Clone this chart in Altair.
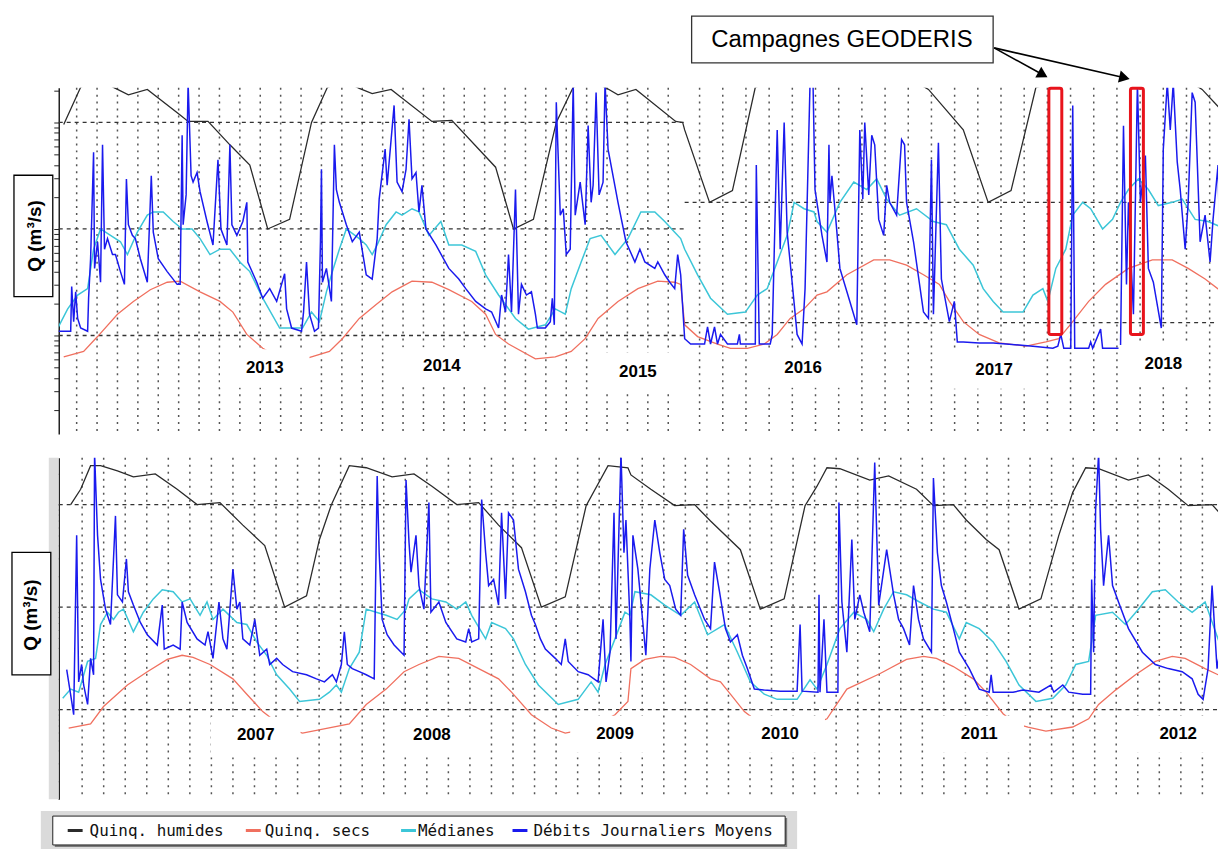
import altair as alt
import numpy as np
import pandas as pd

# ---------------------------------------------------------------- series
SERIES = ["Quinq. humides", "Quinq. secs", "Médianes", "Débits Journaliers Moyens"]
COLORS = ["#2b2b2b", "#f0705f", "#3cc6d8", "#1a1aee"]
WIDTHS = [1.3, 1.3, 1.5, 1.5]

TOP_START = pd.Timestamp("2012-07-15")   # day 0 of the upper panel
BOT_START = pd.Timestamp("2006-07-15")   # day 0 of the lower panel
TOP_DOMAIN_DAYS = [6, 2336]
BOT_DOMAIN_DAYS = [-8, 2322]

# ---------------- upper panel (2013 - 2018): day offsets and log10(Q)
top_black_day = [16, 50, 82, 116, 146, 184, 250, 266, 306, 350,
                 390, 426, 470, 514, 546, 580, 610, 636, 674, 690,
                 756, 796, 884, 920, 960, 1006, 1040, 1070, 1104, 1130,
                 1166, 1246, 1260, 1264, 1314, 1360, 1406, 1470, 1590, 1710,
                 1754, 1824, 1874, 1920, 1970, 2090, 2250, 2304, 2352]
top_black_log10q = [0.98, 1.33, 1.41, 1.33, 1.26, 1.31, 1.07, 1.01, 1.01, 0.79,
                    0.60, 0.0, 0.09, 1.0, 1.33, 1.39, 1.32, 1.27, 1.31, 1.25,
                    1.01, 1.02, 0.58, 0.0, 0.09, 1.0, 1.33, 1.39, 1.33, 1.26,
                    1.31, 1.01, 1.0, 0.93, 0.25, 0.36, 1.33, 1.45, 1.49, 1.43,
                    1.31, 0.93, 0.25, 0.36, 1.33, 1.47, 1.47, 1.31, 1.07]

top_red_day = [16, 56, 84, 124, 156, 190, 224, 250, 290, 330,
               356, 384, 416, 470, 514, 550, 576, 610, 644, 676,
               716, 756, 790, 836, 864, 884, 910, 964, 1004, 1036,
               1064, 1090, 1130, 1170, 1210, 1244, 1256, 1264, 1290, 1330,
               1356, 1390, 1424, 1450, 1476, 1504, 1530, 1550, 1590, 1644,
               1676, 1710, 1744, 1776, 1796, 1824, 1856, 1896, 1950, 1990,
               2016, 2044, 2076, 2110, 2156, 2204, 2244, 2276, 2310, 2352]
top_red_log10q = [-1.20, -1.15, -1.01, -0.80, -0.68, -0.57, -0.50, -0.49, -0.59, -0.68,
                  -0.78, -0.99, -1.12, -1.26, -1.20, -1.15, -1.03, -0.84, -0.71, -0.59,
                  -0.49, -0.50, -0.57, -0.68, -0.80, -0.99, -1.08, -1.22, -1.20, -1.15,
                  -1.03, -0.84, -0.68, -0.56, -0.49, -0.50, -0.52, -0.90, -1.01, -1.08,
                  -1.12, -1.12, -1.08, -0.99, -0.84, -0.75, -0.62, -0.59, -0.43, -0.29,
                  -0.29, -0.34, -0.43, -0.52, -0.68, -0.87, -0.99, -1.07, -1.10, -1.06,
                  -1.03, -0.87, -0.68, -0.52, -0.37, -0.29, -0.29, -0.37, -0.47, -0.62]

top_cyan_day = [4, 24, 44, 64, 76, 90, 110, 130, 144, 164,
                184, 196, 216, 236, 254, 274, 290, 310, 330, 350,
                370, 390, 416, 450, 476, 496, 514, 530, 544, 556,
                570, 584, 610, 624, 636, 646, 664, 684, 696, 716,
                730, 750, 774, 790, 816, 844, 864, 890, 924, 950,
                984, 1004, 1024, 1036, 1056, 1074, 1096, 1124, 1150, 1176,
                1204, 1224, 1244, 1256, 1264, 1290, 1316, 1350, 1386, 1410,
                1430, 1450, 1470, 1484, 1504, 1524, 1530, 1550, 1576, 1604,
                1630, 1650, 1670, 1696, 1730, 1764, 1790, 1816, 1844, 1864,
                1884, 1904, 1944, 1964, 1984, 1994, 2010, 2030, 2044, 2064,
                2080, 2104, 2124, 2140, 2156, 2176, 2196, 2216, 2244, 2264,
                2290, 2316, 2352]
top_cyan_log10q = [-0.93, -0.75, -0.62, -0.56, -0.19, 0.0, -0.06, -0.12, -0.24, -0.03,
                   0.13, 0.16, 0.16, 0.07, 0.0, 0.0, -0.09, -0.24, -0.19, -0.19,
                   -0.31, -0.40, -0.65, -0.93, -0.93, -0.93, -0.78, -0.87, -0.59, -0.40,
                   -0.19, 0.0, -0.09, -0.15, -0.24, -0.15, 0.04, 0.16, 0.13, 0.19,
                   0.16, -0.06, 0.07, -0.15, -0.15, -0.21, -0.43, -0.62, -0.84, -0.94,
                   -0.90, -0.75, -0.80, -0.56, -0.31, -0.09, -0.06, -0.24, -0.09, 0.16,
                   0.16, 0.07, -0.03, -0.09, -0.19, -0.43, -0.65, -0.80, -0.78, -0.62,
                   -0.56, -0.31, -0.06, 0.25, 0.19, 0.16, 0.07, -0.03, 0.25, 0.44,
                   0.37, 0.47, 0.28, 0.13, 0.19, 0.07, 0.04, -0.19, -0.34, -0.56,
                   -0.68, -0.78, -0.78, -0.62, -0.56, -0.68, -0.37, -0.19, 0.13, 0.25,
                   0.19, 0.0, 0.09, 0.25, 0.37, 0.47, 0.37, 0.22, 0.25, 0.28,
                   0.09, 0.07, 0.0]

top_blue_day = [4, 30, 32, 36, 40, 44, 50, 64, 66, 70,
                76, 78, 84, 90, 94, 98, 104, 114, 120, 130,
                138, 142, 146, 154, 160, 170, 184, 192, 196, 206,
                224, 244, 250, 254, 256, 262, 266, 272, 276, 284,
                290, 304, 316, 326, 332, 344, 350, 354, 364, 376,
                384, 386, 404, 416, 430, 444, 460, 464, 474, 494,
                498, 504, 510, 520, 528, 532, 534, 536, 544, 554,
                560, 564, 570, 584, 596, 610, 624, 636, 646, 650,
                662, 666, 680, 686, 696, 704, 710, 716, 724, 730,
                736, 744, 764, 790, 810, 824, 844, 864, 876, 890,
                896, 904, 910, 916, 924, 930, 936, 946, 956, 964,
                968, 984, 994, 998, 1002, 1006, 1014, 1020, 1026, 1034,
                1040, 1044, 1054, 1064, 1070, 1076, 1080, 1086, 1092, 1100,
                1104, 1110, 1116, 1130, 1146, 1164, 1174, 1184, 1204, 1210,
                1224, 1234, 1244, 1250, 1256, 1264, 1276, 1304, 1310, 1316,
                1324, 1330, 1336, 1350, 1370, 1374, 1376, 1406, 1408, 1414,
                1436, 1440, 1450, 1456, 1464, 1470, 1480, 1490, 1500, 1506,
                1516, 1522, 1526, 1540, 1550, 1554, 1556, 1560, 1570, 1576,
                1596, 1610, 1616, 1622, 1626, 1634, 1640, 1646, 1654, 1664,
                1670, 1676, 1690, 1700, 1706, 1710, 1724, 1744, 1754, 1760,
                1764, 1774, 1780, 1796, 1806, 1812, 1824, 1856, 1884, 1910,
                1964, 2004, 2014, 2020, 2026, 2040, 2044, 2048, 2076, 2080,
                2084, 2100, 2104, 2140, 2146, 2152, 2156, 2166, 2174, 2180,
                2190, 2196, 2206, 2222, 2226, 2234, 2240, 2246, 2254, 2260,
                2270, 2276, 2284, 2290, 2300, 2310, 2320, 2326, 2336, 2340,
                2346, 2352]
top_blue_log10q = [-0.96, -0.96, -0.54, -0.87, -0.59, -0.84, -0.93, -0.96, -0.65, -0.28,
                   0.72, -0.37, -0.12, -0.50, 0.79, -0.19, -0.09, -0.24, -0.24, -0.40,
                   -0.52, 0.47, 0.04, -0.06, -0.09, -0.28, -0.50, 0.50, -0.03, -0.28,
                   -0.40, -0.52, -0.52, 0.88, 0.04, 0.32, 1.37, 0.50, 0.44, 0.53,
                   0.35, 0.07, -0.15, 0.65, 0.0, -0.15, 0.79, 0.04, -0.06, 0.07,
                   0.25, -0.31, -0.50, -0.65, -0.56, -0.68, -0.42, -0.75, -0.93, -0.96,
                   -0.78, -0.31, -0.80, -0.96, -0.93, -0.12, 0.56, -0.50, -0.37, -0.68,
                   0.79, 0.37, 0.25, 0.04, -0.12, -0.03, -0.43, -0.47, -0.09, 0.28,
                   0.75, 0.41, 1.16, 0.44, 0.35, 0.56, 1.03, 0.47, 0.53, 0.16,
                   0.41, 0.0, -0.15, -0.37, -0.47, -0.56, -0.68, -0.75, -0.78, -0.93,
                   -0.62, -0.78, -0.24, -0.78, 0.37, -0.80, -0.52, -0.62, -0.59, -0.80,
                   -0.93, -0.93, -0.87, -0.65, -0.90, 1.19, 0.13, 0.19, -0.24, -0.19,
                   1.37, 0.13, 0.44, 0.04, 0.97, 0.25, 0.41, 1.28, 0.32, 0.44,
                   1.37, 0.75, 0.60, 0.25, -0.12, -0.31, -0.19, -0.31, -0.37, -0.31,
                   -0.43, -0.50, -0.56, -0.24, -0.43, -1.03, -1.08, -1.08, -0.92, -1.08,
                   -0.92, -1.08, -0.99, -1.08, -1.08, -0.99, -1.08, -1.08, 0.60, -1.08,
                   -1.08, -0.99, 0.93, -0.19, 1.0, -0.03, -0.50, -0.99, -1.08, -0.56,
                   1.37, 1.37, 0.37, -0.06, -0.31, 0.79, 0.25, 0.50, -0.03, -0.37,
                   -0.68, -0.90, 0.93, 0.28, 1.0, 0.32, 0.88, 0.79, 0.09, -0.06,
                   0.41, 0.25, 0.13, 0.84, 0.79, 0.25, -0.12, -0.78, -0.84, 0.65,
                   -0.80, 0.81, -0.47, -0.87, -0.68, -1.06, -1.06, -1.07, -1.07, -1.08,
                   -1.10, -1.12, -1.10, -0.99, -1.12, -1.12, 1.16, -1.12, -1.12, -1.06,
                   -1.12, -0.94, -1.12, -1.12, 0.97, -0.52, 0.25, -0.80, 1.37, 0.25,
                   0.69, -0.37, -0.50, -0.93, 0.75, 1.37, 0.93, 1.37, 0.63, 0.37,
                   -0.19, 0.25, 1.28, 1.19, -0.12, 0.13, -0.31, 0.09, 0.60, -0.31,
                   0.09, -0.06]

top_year_labels = ["2013", "2014", "2015", "2016", "2017", "2018"]
top_year_day = [420, 776, 1170, 1502, 1886, 2226]
top_year_log10q = [-1.31, -1.29, -1.34, -1.31, -1.32, -1.27]

campaign_start_day = [1996, 2160]
campaign_end_day = [2022, 2186]
campaign_log10q = [1.32, -0.99]

top_hgrid_start_day = [6, 6, 6, 1264, 1264]
top_hgrid_end_day = [1264, 1264, 1264, 2336, 2336]
top_hgrid_log10q = [1.0, 0.0, -1.0, 0.25, -0.88]

# ---------------- lower panel (2007 - 2012)
bot_black_day = [16, 36, 56, 76, 110, 142, 186, 230, 270, 316,
                 362, 406, 446, 490, 516, 540, 576, 610, 662, 706,
                 742, 792, 836, 876, 922, 962, 1010, 1052, 1096, 1136,
                 1142, 1182, 1230, 1270, 1302, 1362, 1402, 1450, 1492, 1516,
                 1536, 1562, 1622, 1660, 1716, 1750, 1790, 1816, 1856, 1882,
                 1922, 1966, 2002, 2030, 2056, 2082, 2142, 2182, 2222, 2262,
                 2310, 2338]
bot_black_log10q = [1.0, 1.15, 1.38, 1.38, 1.33, 1.27, 1.30, 1.15, 1.0, 1.02,
                    0.80, 0.60, 0.0, 0.11, 0.66, 1.0, 1.38, 1.36, 1.27, 1.30,
                    1.18, 1.0, 1.02, 0.80, 0.58, 0.0, 0.10, 0.99, 1.38, 1.36,
                    1.29, 1.15, 0.99, 1.0, 0.84, 0.56, -0.02, 0.08, 0.99, 1.18,
                    1.36, 1.35, 1.24, 1.28, 1.15, 0.99, 1.0, 0.85, 0.66, 0.56,
                    -0.02, 0.08, 0.70, 1.12, 1.36, 1.35, 1.24, 1.29, 1.15, 0.99,
                    1.0, 0.85]

bot_red_day = [12, 56, 82, 130, 170, 210, 240, 262, 296, 342,
               370, 402, 442, 482, 576, 610, 650, 686, 716, 756,
               796, 836, 876, 902, 942, 982, 1010, 1030, 1076, 1110,
               1136, 1142, 1170, 1202, 1230, 1262, 1302, 1322, 1342, 1370,
               1416, 1476, 1536, 1576, 1642, 1696, 1730, 1756, 1790, 1830,
               1856, 1890, 1916, 1940, 1976, 2030, 2062, 2082, 2116, 2156,
               2196, 2230, 2256, 2296, 2322, 2338]
bot_red_log10q = [-1.18, -1.14, -0.97, -0.76, -0.63, -0.51, -0.47, -0.49, -0.56, -0.70,
                  -0.85, -1.02, -1.17, -1.23, -1.14, -0.95, -0.80, -0.63, -0.56, -0.48,
                  -0.50, -0.60, -0.70, -0.83, -1.05, -1.18, -1.23, -1.21, -1.14, -1.05,
                  -0.92, -0.60, -0.51, -0.48, -0.49, -0.56, -0.70, -0.73, -0.85, -1.02,
                  -1.19, -1.21, -1.09, -0.80, -0.65, -0.51, -0.48, -0.50, -0.58, -0.70,
                  -0.83, -1.04, -1.14, -1.17, -1.21, -1.17, -1.09, -0.95, -0.81, -0.66,
                  -0.53, -0.48, -0.50, -0.60, -0.66, -0.67]

bot_cyan_day = [0, 16, 32, 50, 66, 76, 90, 102, 112, 122,
                142, 162, 182, 200, 222, 240, 256, 276, 290, 302,
                322, 350, 370, 390, 410, 430, 456, 476, 516, 536,
                550, 560, 576, 596, 610, 630, 650, 672, 690, 696,
                716, 742, 770, 792, 810, 822, 850, 862, 890, 906,
                930, 956, 996, 1036, 1062, 1076, 1090, 1110, 1130, 1140,
                1150, 1182, 1210, 1242, 1270, 1296, 1330, 1356, 1382, 1410,
                1436, 1476, 1502, 1516, 1536, 1562, 1590, 1616, 1630, 1650,
                1670, 1696, 1722, 1750, 1776, 1802, 1816, 1842, 1870, 1896,
                1922, 1956, 1990, 2016, 2036, 2062, 2076, 2110, 2136, 2162,
                2190, 2216, 2242, 2270, 2296, 2322, 2338]
bot_cyan_log10q = [-0.89, -0.80, -0.83, -0.53, -0.50, -0.17, -0.05, -0.12, -0.05, -0.02,
                   -0.24, -0.05, 0.08, 0.17, 0.15, 0.05, 0.08, -0.08, 0.05, -0.12,
                   -0.02, -0.15, -0.17, -0.34, -0.47, -0.66, -0.80, -0.92, -0.90, -0.83,
                   -0.76, -0.83, -0.60, -0.44, -0.02, -0.05, -0.08, -0.12, -0.02, 0.08,
                   0.17, 0.08, 0.05, -0.02, 0.05, -0.08, -0.31, -0.15, -0.21, -0.31,
                   -0.56, -0.76, -0.95, -0.90, -0.73, -0.83, -0.56, -0.31, -0.05, -0.08,
                   0.15, 0.12, 0.02, -0.08, 0.05, -0.27, -0.17, -0.44, -0.73, -0.85,
                   -0.90, -0.90, -0.71, -0.80, -0.56, -0.21, -0.05, -0.12, -0.24, -0.02,
                   0.15, 0.12, 0.05, -0.02, -0.05, -0.31, -0.15, -0.21, -0.34, -0.53,
                   -0.76, -0.92, -0.89, -0.76, -0.56, -0.53, -0.08, -0.05, -0.17, -0.02,
                   0.15, 0.17, 0.05, -0.05, 0.05, -0.31, -0.05]

bot_blue_day = [8, 18, 22, 28, 32, 38, 42, 50, 56, 62,
                64, 70, 76, 86, 96, 106, 110, 120, 128, 132,
                142, 156, 170, 190, 200, 204, 222, 236, 240, 250,
                270, 286, 292, 302, 314, 322, 330, 342, 350, 356,
                362, 376, 386, 396, 410, 416, 430, 442, 462, 490,
                510, 526, 542, 550, 560, 566, 572, 582, 596, 610,
                626, 632, 636, 642, 652, 666, 686, 690, 696, 700,
                710, 716, 726, 736, 740, 756, 770, 792, 810, 816,
                822, 836, 842, 850, 856, 866, 876, 882, 890, 896,
                906, 916, 930, 942, 950, 960, 970, 990, 1002, 1010,
                1016, 1036, 1056, 1076, 1086, 1092, 1100, 1108, 1112, 1122,
                1128, 1132, 1140, 1142, 1146, 1156, 1172, 1180, 1190, 1200,
                1210, 1220, 1232, 1242, 1248, 1256, 1270, 1290, 1302, 1310,
                1320, 1332, 1342, 1356, 1366, 1376, 1390, 1410, 1442, 1476,
                1482, 1486, 1518, 1520, 1522, 1530, 1536, 1558, 1560, 1566,
                1576, 1586, 1592, 1602, 1610, 1622, 1632, 1640, 1656, 1670,
                1680, 1690, 1702, 1710, 1720, 1730, 1746, 1750, 1758, 1766,
                1776, 1790, 1802, 1822, 1842, 1862, 1866, 1870, 1910, 1930,
                1962, 1986, 1992, 2010, 2022, 2050, 2066, 2068, 2072, 2076,
                2082, 2086, 2092, 2102, 2110, 2122, 2142, 2170, 2196, 2222,
                2250, 2270, 2282, 2292, 2302, 2310, 2320, 2330, 2334, 2338]
bot_blue_log10q = [-0.61, -0.92, -1.05, 0.70, -0.73, -0.56, -0.76, -0.95, -0.50, -0.66,
                   1.50, 0.70, 0.27, -0.02, -0.17, 0.89, 0.12, 0.05, 0.47, 0.15,
                   0.02, -0.15, -0.27, -0.37, 0.02, -0.41, -0.37, -0.41, 0.05, -0.15,
                   -0.31, -0.37, -0.24, -0.50, 0.05, -0.31, -0.41, 0.37, -0.02, 0.05,
                   -0.31, -0.37, -0.12, -0.47, -0.41, -0.56, -0.50, -0.56, -0.63, -0.66,
                   -0.70, -0.73, -0.66, -0.73, -0.56, -0.24, -0.56, -0.60, -0.63, -0.66,
                   -0.70, 1.28, 0.53, -0.12, -0.27, -0.37, -0.47, 1.24, 0.63, 0.34,
                   0.70, 0.21, -0.02, 1.02, -0.05, 0.05, -0.15, -0.31, -0.34, -0.21,
                   -0.34, -0.31, 1.05, 0.53, 0.21, 0.27, 0.02, 0.92, 0.08, 0.92,
                   0.85, 0.37, 0.15, -0.08, -0.17, -0.31, -0.41, -0.50, -0.56, -0.31,
                   -0.53, -0.63, -0.66, -0.73, -0.12, -0.73, -0.44, 0.92, -0.31, 1.50,
                   0.53, 0.85, -0.12, -0.53, 0.70, 0.37, -0.47, 0.37, 0.85, 0.53,
                   0.27, 0.21, -0.02, -0.08, 0.76, 0.31, 0.12, -0.12, -0.21, 0.44,
                   0.15, -0.21, -0.34, -0.27, -0.47, -0.60, -0.80, -0.81, -0.82, -0.82,
                   -0.17, -0.82, -0.83, 0.12, -0.83, -0.12, -0.83, -0.83, 1.02, 0.05,
                   -0.44, 0.66, -0.12, 0.12, -0.05, -0.24, 1.41, 0.02, 0.56, 0.12,
                   -0.12, -0.21, -0.37, 0.21, -0.12, -0.31, -0.44, 1.26, 0.53, 0.21,
                   0.05, -0.21, -0.44, -0.60, -0.80, -0.83, -0.66, -0.83, -0.83, -0.81,
                   -0.83, -0.76, -0.83, -0.76, -0.83, -0.85, -0.85, 0.27, -0.44, 0.95,
                   1.50, 0.76, 0.21, 0.70, 0.21, 0.05, -0.21, -0.44, -0.56, -0.60,
                   -0.63, -0.70, -0.85, -0.90, -0.60, 0.21, -0.60, -0.31, 0.70, 0.53]

bot_year_labels = ["2007", "2008", "2009", "2010", "2011", "2012"]
bot_year_day = [388, 742, 1110, 1442, 1842, 2242]
bot_year_log10q = [-1.25, -1.25, -1.24, -1.24, -1.24, -1.24]

bot_hgrid_start_day = [-8, -8, -8]
bot_hgrid_end_day = [2322, 2322, 2322]
bot_hgrid_log10q = [1.0, 0.0, -1.0]

LOG_TICKS = [0.02, 0.03, 0.04, 0.05, 0.06, 0.07, 0.08, 0.09,
             0.1, 0.2, 0.3, 0.4, 0.5, 0.6, 0.7, 0.8, 0.9,
             1, 2, 3, 4, 5, 6, 7, 8, 9, 10, 20]

SANS = "Liberation Sans, Arial, sans-serif"
MONO = "DejaVu Sans Mono, monospace"
ONE = pd.DataFrame({"k": [0]})
PANEL_W = 1165


def dates(start, days):
    return start + pd.to_timedelta(np.asarray(days, dtype=float), unit="D")


def series_df(start, days, logs):
    n = min(len(days), len(logs))
    return pd.DataFrame({"date": dates(start, days[:n]),
                         "q": np.power(10.0, np.asarray(logs[:n], dtype=float))})


def dt(ts):
    return alt.DateTime(year=int(ts.year), month=int(ts.month), date=int(ts.day),
                        hours=int(ts.hour))


def panel(start, dom_days, width, height, q_lo, q_hi, lines, years, hgrid, vgrid_days,
          qbox, extra_layers):
    d0 = start + pd.Timedelta(days=dom_days[0])
    d1 = start + pd.Timedelta(days=dom_days[1])
    X = alt.X("date:T", scale=alt.Scale(domain=[dt(d0), dt(d1)], nice=False), axis=None)
    X2 = alt.X2("date2:T")
    yaxis = alt.Axis(values=LOG_TICKS, labels=False, grid=False, ticks=True, tickSize=5,
                     tickColor="#222", domainColor="#222", domainWidth=1.5, title=None)
    Y = alt.Y("q:Q", scale=alt.Scale(type="log", domain=[q_lo, q_hi], nice=False), axis=yaxis)
    Y2 = alt.Y2("q2:Q")

    layers = list(extra_layers.get("back", []))

    vgrid = pd.DataFrame({"date": dates(start, vgrid_days)})
    layers.append(alt.Chart(vgrid).mark_rule(strokeDash=[2, 5], stroke="#555", strokeWidth=1.5)
                  .encode(x=X))
    hs, he, hl = hgrid
    hdf = pd.DataFrame({"date": dates(start, hs), "date2": dates(start, he),
                        "q": np.power(10.0, np.asarray(hl, dtype=float))})
    layers.append(alt.Chart(hdf).mark_rule(strokeDash=[4, 4], stroke="#333", strokeWidth=1.3)
                  .encode(x=X, x2=X2, y=Y))

    for (days, logs), color, w in zip(lines, COLORS, WIDTHS):
        layers.append(alt.Chart(series_df(start, days, logs))
                      .mark_line(clip=True, color=color, strokeWidth=w)
                      .encode(x=X, y=Y))

    labels, ydays, ylogs = years
    d = dates(start, ydays)
    lq = np.asarray(ylogs, dtype=float)
    patch = pd.DataFrame({"date": d - pd.Timedelta(days=90), "date2": d + pd.Timedelta(days=90),
                          "q": np.power(10.0, lq + 0.18), "q2": np.power(10.0, lq - 0.18)})
    layers.append(alt.Chart(patch).mark_rect(fill="white").encode(x=X, x2=X2, y=Y, y2=Y2))
    tdf = pd.DataFrame({"date": d, "q": np.power(10.0, lq), "label": labels})
    layers.append(alt.Chart(tdf).mark_text(font=SANS, fontSize=17, fontWeight="bold",
                                           color="black", baseline="middle")
                  .encode(x=X, y=Y, text="label:N"))

    for fn in extra_layers.get("data", []):
        layers.append(fn(X, X2, Y, Y2))

    bx0, bx1, by0, by1, tx, ty = qbox
    layers.append(alt.Chart(ONE).mark_rect(fill="white", stroke="black", strokeWidth=1.3)
                  .encode(x=alt.value(bx0), x2=alt.value(bx1), y=alt.value(by0), y2=alt.value(by1)))
    layers.append(alt.Chart(ONE).mark_text(text="Q (m³/s)", angle=270, font=SANS, fontSize=19,
                                           fontWeight="bold", color="black", baseline="middle")
                  .encode(x=alt.value(tx), y=alt.value(ty)))

    layers.extend(extra_layers.get("front", []))
    return alt.layer(*layers).properties(width=width, height=height)


# ---------------- upper panel extras: campaigns + annotation
def campaigns(X, X2, Y, Y2):
    cdf = pd.DataFrame({"date": dates(TOP_START, campaign_start_day),
                        "date2": dates(TOP_START, campaign_end_day),
                        "q": [10 ** campaign_log10q[0]] * 2,
                        "q2": [10 ** campaign_log10q[1]] * 2})
    return (alt.Chart(cdf).mark_rect(fillOpacity=0, stroke="#e8141c", strokeWidth=3, cornerRadius=2)
            .encode(x=X, x2=X2, y=Y, y2=Y2))


top_front = [
    alt.Chart(ONE).mark_rect(fill="white", stroke="#333", strokeWidth=1.3)
    .encode(x=alt.value(636), x2=alt.value(939), y=alt.value(-72), y2=alt.value(-25)),
    alt.Chart(ONE).mark_text(text="Campagnes GEODERIS", font=SANS, fontSize=24, color="black",
                             baseline="middle")
    .encode(x=alt.value(787), y=alt.value(-48)),
    alt.Chart(ONE).mark_rule(stroke="black", strokeWidth=1.6)
    .encode(x=alt.value(940), y=alt.value(-40), x2=alt.value(989), y2=alt.value(-13)),
    alt.Chart(ONE).mark_rule(stroke="black", strokeWidth=1.6)
    .encode(x=alt.value(940), y=alt.value(-40), x2=alt.value(1071), y2=alt.value(-10)),
    alt.Chart(ONE).mark_point(shape="triangle-right", filled=True, size=150, angle=29,
                              color="black", opacity=1)
    .encode(x=alt.value(989), y=alt.value(-13)),
    alt.Chart(ONE).mark_point(shape="triangle-right", filled=True, size=150, angle=13,
                              color="black", opacity=1)
    .encode(x=alt.value(1071), y=alt.value(-10)),
]

top_vgrid = list(np.arange(42, 1263, 41.0)) + list(np.arange(1294, 2336, 46.6))
top = panel(TOP_START, TOP_DOMAIN_DAYS, PANEL_W, 348, 0.0119, 21.2,
            [(top_black_day, top_black_log10q), (top_red_day, top_red_log10q),
             (top_cyan_day, top_cyan_log10q), (top_blue_day, top_blue_log10q)],
            (top_year_labels, top_year_day, top_year_log10q),
            (top_hgrid_start_day, top_hgrid_end_day, top_hgrid_log10q),
            top_vgrid,
            (-45, -6, 88, 210, -24, 149),
            {"data": [campaigns], "front": top_front})

# ---------------- lower panel extras: grey strip + legend
bot_back = [
    alt.Chart(ONE).mark_rect(fill="#dcdcdc")
    .encode(x=alt.value(-10), x2=alt.value(0), y=alt.value(0), y2=alt.value(343)),
]
legend_x_swatch = [9, 188, 344, 456]
legend_x_text = [31, 207, 361, 477]
bot_front = [
    alt.Chart(ONE).mark_rect(fill="#dadada")
    .encode(x=alt.value(-18), x2=alt.value(742), y=alt.value(355), y2=alt.value(393)),
    alt.Chart(ONE).mark_rect(fill="#7a7a7a")
    .encode(x=alt.value(-4), x2=alt.value(732), y=alt.value(362), y2=alt.value(391)),
    alt.Chart(ONE).mark_rect(fill="white", stroke="#222", strokeWidth=1)
    .encode(x=alt.value(-6), x2=alt.value(730), y=alt.value(360), y2=alt.value(389)),
]
for name, color, xs, xt in zip(SERIES, COLORS, legend_x_swatch, legend_x_text):
    bot_front.append(alt.Chart(ONE).mark_rule(stroke=color, strokeWidth=3)
                     .encode(x=alt.value(xs), x2=alt.value(xs + 15),
                             y=alt.value(374.5), y2=alt.value(374.5)))
    bot_front.append(alt.Chart(ONE).mark_text(text=name, font=MONO, fontSize=16, color="#111",
                                              align="left", baseline="middle")
                     .encode(x=alt.value(xt), y=alt.value(375)))

bot_vgrid = list(np.arange(39, 2322, 43.3))
bottom = panel(BOT_START, BOT_DOMAIN_DAYS, PANEL_W, 343, 0.01336, 28.6,
               [(bot_black_day, bot_black_log10q), (bot_red_day, bot_red_log10q),
                (bot_cyan_day, bot_cyan_log10q), (bot_blue_day, bot_blue_log10q)],
               (bot_year_labels, bot_year_day, bot_year_log10q),
               (bot_hgrid_start_day, bot_hgrid_end_day, bot_hgrid_log10q),
               bot_vgrid,
               (-47, -8, 95, 218, -28, 158),
               {"back": bot_back, "front": bot_front})

chart = (alt.vconcat(top, bottom, spacing=22)
         .properties(padding={"left": 3, "top": 5, "right": 0, "bottom": 0}, background="white")
         .configure_view(stroke=None))

chart.save("out.html", embed_options={"renderer": "svg", "actions": False})
